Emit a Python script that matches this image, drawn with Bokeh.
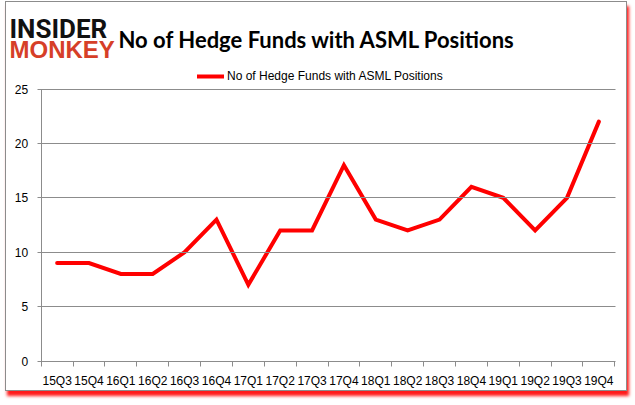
from bokeh.plotting import figure
from bokeh.models import Range1d, FixedTicker, Label, Legend, LegendItem, LinearAxis
from bokeh.embed import file_html
from bokeh.resources import INLINE

quarters = ["15Q3", "15Q4", "16Q1", "16Q2", "16Q3", "16Q4", "17Q1", "17Q2", "17Q3",
            "17Q4", "18Q1", "18Q2", "18Q3", "18Q4", "19Q1", "19Q2", "19Q3", "19Q4"]
funds = [9, 9, 8, 8, 10, 13, 7, 12, 12, 18, 13, 12, 13, 16, 15, 12, 15, 22]
y_ticks = [0, 5, 10, 15, 20, 25]
series_name = "No of Hedge Funds with ASML Positions"
title_text = "No of Hedge Funds with ASML Positions"
logo_top = "INSIDER"
logo_bottom = "MONKEY"

# ---- layout geometry (pixels inside the bordered canvas) ----
W, H = 622, 390
plot_left, plot_right = 34.7, 608.3     # pixel x of the category band edges
plot_top, plot_bottom = 86.5, 358.5     # pixel y of y=25 and y=0
n = len(quarters)
y_max = y_ticks[-1]
px_x = (plot_right - plot_left) / n
px_y = (plot_bottom - plot_top) / y_max
x0, x1 = -0.5, n - 0.5
x_range = Range1d(x0 - plot_left / px_x, x1 + (W - plot_right) / px_x)
y_range = Range1d(-(H - plot_bottom) / px_y, y_max + plot_top / px_y)

tick_font = "Liberation Sans"
grid_col = "#8c8c8c"

p = figure(width=W, height=H, output_backend="svg", toolbar_location=None,
           x_range=x_range, y_range=y_range, min_border=0,
           x_axis_location=None, y_axis_location=None)
p.styles = {"margin-left": "5px", "margin-top": "1px",
            "border": "1px solid #8c8c8c",
            "box-shadow": "2px 5px 3px #ff1a1a"}
p.background_fill_color = "white"
p.border_fill_color = "white"
p.outline_line_color = None
p.xgrid.visible = False
p.ygrid.visible = False

xs = list(range(n))
r = p.line(xs, funds, line_color="#ff0000", line_width=4, line_join="miter",
           line_cap="round")

# x axis fixed at y = 0
xaxis = LinearAxis(fixed_location=0, bounds=(x0, x1),
                   ticker=FixedTicker(ticks=xs, minor_ticks=[i - 0.5 for i in range(n + 1)]))
xaxis.major_label_overrides = {i: q for i, q in enumerate(quarters)}
xaxis.major_tick_out = 0
xaxis.major_tick_in = 0
xaxis.minor_tick_out = 5
xaxis.minor_tick_in = 0
xaxis.minor_tick_line_color = grid_col
xaxis.axis_line_color = grid_col
xaxis.major_label_standoff = 8
xaxis.major_label_text_font = tick_font
xaxis.major_label_text_font_size = "12px"
xaxis.major_label_text_color = "#000000"
p.add_layout(xaxis, "below")

# y axis fixed at the left band edge; inner ticks span the plot as grid lines
yaxis = LinearAxis(fixed_location=x0, bounds=(0, y_max), ticker=FixedTicker(ticks=y_ticks))
yaxis.major_tick_out = 4
yaxis.major_tick_in = int(round(plot_right - plot_left))
yaxis.minor_tick_line_color = None
yaxis.axis_line_color = grid_col
yaxis.major_tick_line_color = grid_col
yaxis.major_label_standoff = 9
yaxis.major_label_text_font = tick_font
yaxis.major_label_text_font_size = "12px"
yaxis.major_label_text_color = "#000000"
p.add_layout(yaxis, "left")

legend = Legend(items=[LegendItem(label=series_name, renderers=[r])],
                location=(191, 309), orientation="horizontal",
                padding=0, margin=0, spacing=0,
                glyph_width=27, glyph_height=10, label_height=12,
                label_standoff=3, label_text_font=tick_font,
                label_text_font_size="12px", label_text_color="#000000",
                border_line_color=None, background_fill_alpha=0)
p.add_layout(legend, "center")

p.add_layout(Label(x=3, y=H - 26.5, x_units="screen", y_units="screen", text=logo_top,
                   text_font="Roboto", text_font_style="bold", text_baseline="alphabetic",
                   text_font_size="26px", text_color="#111111"))
p.add_layout(Label(x=3, y=H - 46.5, x_units="screen", y_units="screen", text=logo_bottom,
                   text_font="Liberation Sans", text_font_style="bold", text_baseline="alphabetic",
                   text_font_size="24px", text_color="#d63f28"))
p.add_layout(Label(x=112, y=H - 36.7, x_units="screen", y_units="screen", text=title_text,
                   text_font="Lato", text_font_style="bold", text_baseline="alphabetic",
                   text_font_size="22px", text_color="#000000"))

open("out.html", "w").write(file_html(p, INLINE))
